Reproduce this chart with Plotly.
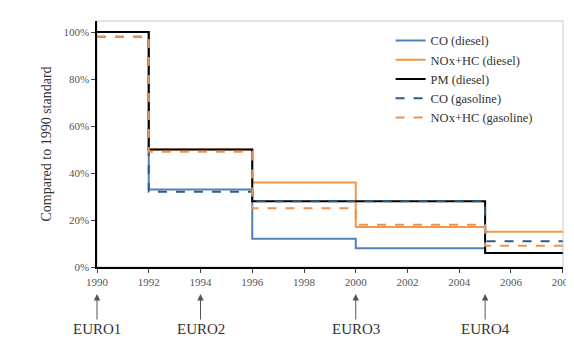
import plotly.graph_objects as go

# step edges (year each standard starts, last = end of chart)
years = [1990, 1992, 1996, 2000, 2005, 2008]

# percent of the 1990 standard for each period
co_diesel = [100, 33, 12, 8, 6]
noxhc_diesel = [100, 50, 36, 17, 15]
pm_diesel = [100, 50, 28, 28, 6]
co_gasoline = [98, 32, 28, 28, 11]
noxhc_gasoline = [98, 49, 25, 18, 9]

euro_names = ["EURO1", "EURO2", "EURO3", "EURO4"]
euro_years = [1990, 1994, 2000, 2005]

y_ticks = [0, 20, 40, 60, 80, 100]
x_ticks = list(range(1990, 2009, 2))

serif = "Times New Roman, Liberation Serif, serif"

series = [
    ("CO (diesel)", co_diesel, "#4F81BD", "solid"),
    ("NOx+HC (diesel)", noxhc_diesel, "#F79646", "solid"),
    ("PM (diesel)", pm_diesel, "#000000", "solid"),
    ("CO (gasoline)", co_gasoline, "#2E5C85", "dash"),
    ("NOx+HC (gasoline)", noxhc_gasoline, "#E8955A", "dash"),
]

fig = go.Figure()
for name, vals, color, dash in series:
    fig.add_trace(go.Scatter(
        x=years, y=vals + [vals[-1]], name=name, mode="lines",
        line=dict(color=color, width=2, dash=dash, shape="hv")))

for name, yr in zip(euro_names, euro_years):
    fig.add_annotation(
        x=yr, y=-0.11, xref="x", yref="paper", text=name,
        showarrow=True, arrowhead=2, arrowsize=1.3, arrowwidth=1,
        arrowcolor="#555555", ax=0, ay=35,
        font=dict(family=serif, size=15, color="#333333"))

# light plot-area border (top / right)
fig.add_shape(type="rect", xref="paper", yref="paper", x0=0, x1=1, y0=0, y1=1,
              line=dict(color="#c8c8c8", width=1), layer="below")

fig.update_layout(
    width=574, height=342,
    margin=dict(l=89, r=8, t=13, b=83),
    paper_bgcolor="white", plot_bgcolor="white",
    font=dict(family=serif, color="#333333"),
    legend=dict(x=0.63, y=0.98, xanchor="left", yanchor="top",
                bgcolor="rgba(0,0,0,0)", font=dict(family=serif, size=12.5),
                tracegroupgap=0, itemwidth=30),
    showlegend=True,
)
fig.update_xaxes(range=[1990, 2008.01], tickvals=x_ticks, ticks="outside",
                 ticklen=4, showline=True, linecolor="black", linewidth=1.5,
                 showgrid=False, zeroline=False, ticklabeloverflow="allow",
                 tickfont=dict(family=serif, size=11, color="#555555"))
fig.update_yaxes(range=[0, 104.7], tickvals=y_ticks,
                 ticktext=[f"{v}%" for v in y_ticks], ticks="outside",
                 ticklen=4, showline=True, linecolor="black", linewidth=1.5,
                 showgrid=False, zeroline=False,
                 tickfont=dict(family=serif, size=11, color="#555555"),
                 title=dict(text="Compared to 1990 standard",
                            font=dict(family=serif, size=14, color="#333333"),
                            standoff=8))

fig.write_html("out.html")
